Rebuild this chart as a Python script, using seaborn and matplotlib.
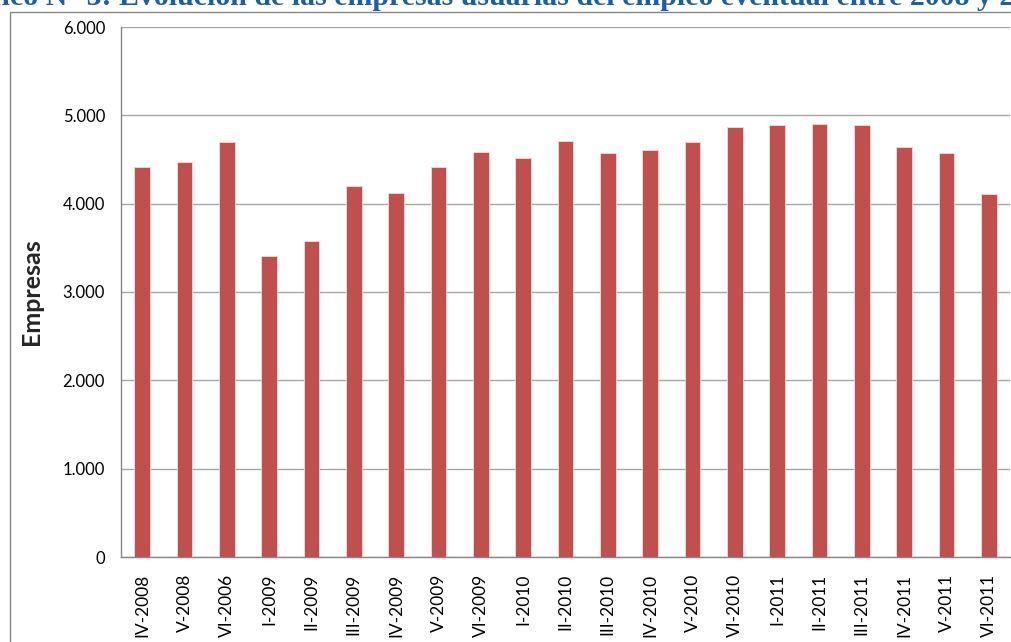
import matplotlib
matplotlib.use("Agg")
import matplotlib.pyplot as plt
import seaborn as sns
import pandas as pd
from matplotlib.patches import Rectangle
from matplotlib.ticker import FuncFormatter

periodos = ["IV-2008", "V-2008", "VI-2006", "I-2009", "II-2009", "III-2009", "IV-2009",
            "V-2009", "VI-2009", "I-2010", "II-2010", "III-2010", "IV-2010", "V-2010",
            "VI-2010", "I-2011", "II-2011", "III-2011", "IV-2011", "V-2011", "VI-2011"]
empresas = [4420, 4470, 4703, 3412, 3582, 4205, 4126, 4420, 4590, 4522, 4715,
            4579, 4613, 4703, 4873, 4885, 4907, 4896, 4647, 4579, 4114]
titulo = "Gráfico N° 3: Evolución de las empresas usuarias del empleo eventual entre 2008 y 2011"
ylabel = "Empresas"

df = pd.DataFrame({"periodo": periodos, "empresas": empresas})

sns.set_theme(style="white")
plt.rcParams["font.family"] = ["Lato", "DejaVu Sans"]

W, H = 1011, 642
fig = plt.figure(figsize=(W / 100, H / 100), dpi=100)
ax = fig.add_axes([121 / W, 1 - 557 / H, (1010 - 121) / W, (557 - 27) / H])

sns.barplot(data=df, x="periodo", y="empresas", color="#C0504D", saturation=1,
            width=0.37, edgecolor="#F2DCDB", linewidth=0.6, ax=ax, zorder=3)

ax.set_ylim(0, 6000)
ax.set_xlim(-0.5, len(periodos) - 0.5)
ax.set_yticks(range(0, 6001, 1000))
ax.yaxis.set_major_formatter(FuncFormatter(lambda v, p: f"{int(v):,}".replace(",", ".")))
ax.grid(axis="y", color="#A6A6A6", linewidth=1.0, zorder=0)
ax.set_axisbelow(True)
for s in ["top", "right"]:
    ax.spines[s].set_visible(False)
for s in ["left", "bottom"]:
    ax.spines[s].set_color("#868686")
    ax.spines[s].set_linewidth(1.0)
ax.tick_params(axis="y", labelsize=12, colors="#000000", length=0, pad=11.5)
ax.tick_params(axis="x", labelsize=12.5, colors="#000000", length=0, pad=12, rotation=90)
ax.set_xlabel("")
ax.set_ylabel(ylabel, fontsize=18, fontweight="bold")
ax.yaxis.set_label_coords((43 - 121) / (1010 - 121), 0.5)

# chart-area border
fig.patches.append(Rectangle((9.5 / W, -0.01), 1.1, 1 - 12.5 / H + 0.01,
                             transform=fig.transFigure, fill=False,
                             edgecolor="#868686", linewidth=1.0))

fig.text(-60 / W, 1 - 5 / H, titulo, ha="left", va="baseline",
         fontsize=21.5, fontweight="bold", color="#1F5F9E",
         family=["Liberation Serif", "DejaVu Serif"])

fig.savefig("out.png", dpi=100)
